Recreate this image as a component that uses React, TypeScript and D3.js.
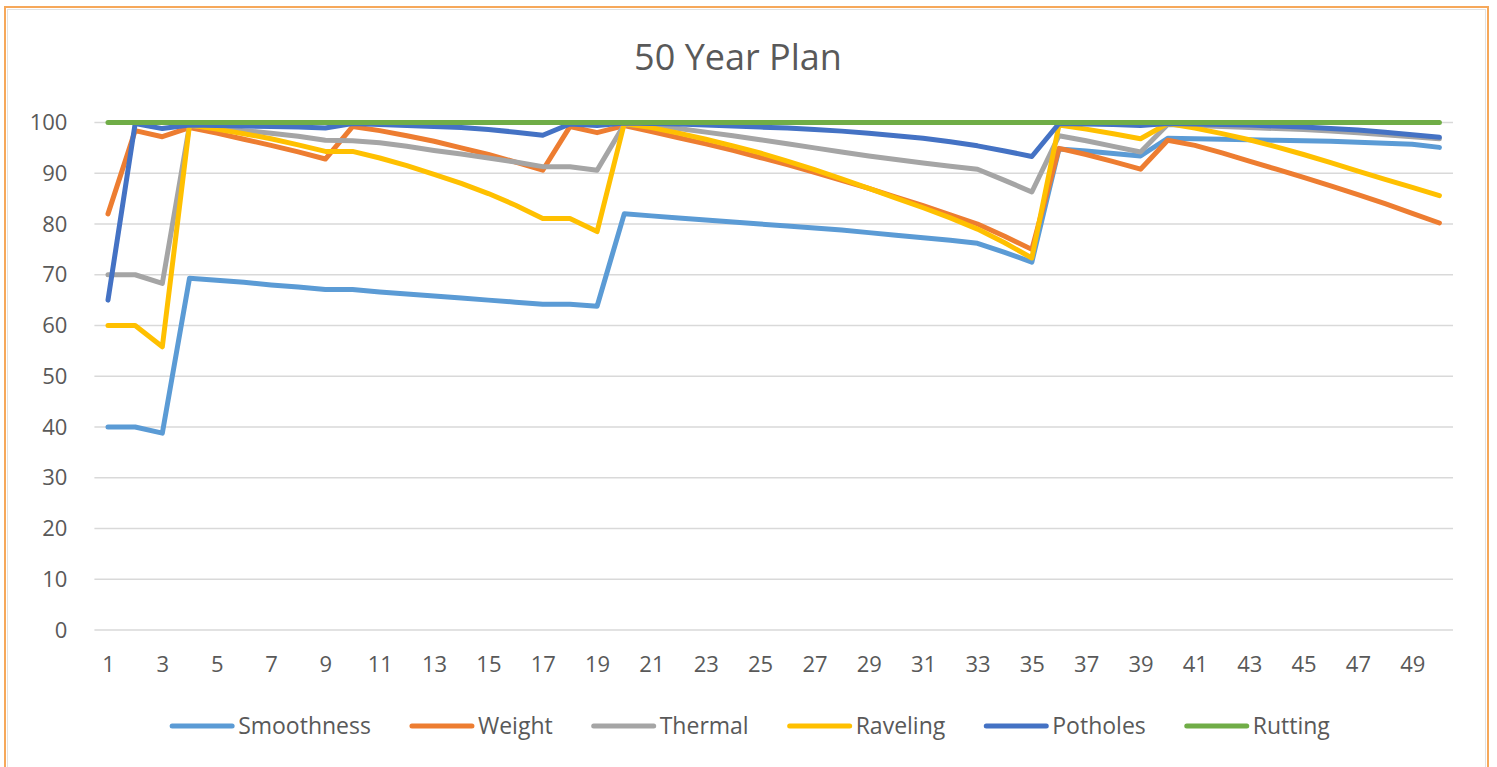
import { useEffect, useRef } from 'react';
import * as d3 from 'd3';

const years = [
  1, 2, 3, 4, 5, 6, 7, 8, 9, 10, 11, 12, 13, 14, 15, 16, 17, 18, 19, 20, 21, 22, 23, 24, 25,
  26, 27, 28, 29, 30, 31, 32, 33, 34, 35, 36, 37, 38, 39, 40, 41, 42, 43, 44, 45, 46, 47, 48, 49, 50,
];

const smoothness = [
  40, 40, 38.8, 69.3, 68.9, 68.5, 68.0, 67.6, 67.1, 67.1,
  66.6, 66.2, 65.8, 65.4, 65.0, 64.6, 64.2, 64.2, 63.8, 82.0,
  81.6, 81.2, 80.8, 80.4, 80.0, 79.6, 79.2, 78.8, 78.3, 77.8,
  77.3, 76.8, 76.2, 74.4, 72.5, 94.8, 94.4, 93.9, 93.4, 96.9,
  96.8, 96.7, 96.6, 96.5, 96.4, 96.3, 96.1, 95.9, 95.7, 95.1,
];
const weight = [
  82.0, 98.4, 97.2, 99.0, 97.9, 96.7, 95.5, 94.2, 92.8, 99.2,
  98.4, 97.4, 96.3, 95.0, 93.7, 92.2, 90.6, 99.2, 98.0, 99.4,
  98.2, 97.0, 95.8, 94.5, 93.1, 91.7, 90.2, 88.6, 87.0, 85.3,
  83.6, 81.8, 80.0, 77.6, 75.0, 94.9, 93.7, 92.3, 90.8, 96.5,
  95.5, 94.0, 92.4, 90.8, 89.2, 87.5, 85.8, 84.0, 82.1, 80.2,
];
const thermal = [
  70, 70, 68.3, 99.4, 98.9, 98.4, 97.9, 97.3, 96.5, 96.4,
  96.0, 95.3, 94.5, 93.8, 93.0, 92.2, 91.3, 91.3, 90.6, 99.6,
  99.4, 98.8, 98.1, 97.4, 96.6, 95.8, 95.0, 94.2, 93.4, 92.7,
  92.0, 91.4, 90.8, 88.6, 86.3, 97.4, 96.4, 95.3, 94.2, 99.6,
  99.4, 99.2, 99.0, 98.8, 98.6, 98.3, 98.0, 97.6, 97.2, 96.8,
];
const raveling = [
  60, 60, 55.8, 99.5, 98.7, 97.8, 96.8, 95.6, 94.3, 94.3,
  93.0, 91.5, 89.8, 88.0, 86.0, 83.7, 81.1, 81.1, 78.5, 99.8,
  99.0, 97.9, 96.7, 95.4, 94.0, 92.4, 90.7, 88.9, 87.0, 85.1,
  83.2, 81.2, 79.0, 76.3, 73.3, 99.5, 98.7, 97.8, 96.8, 99.8,
  98.9, 97.8, 96.6, 95.2, 93.7, 92.1, 90.4, 88.8, 87.2, 85.6,
];
const potholes = [
  65, 99.8, 98.8, 99.5, 99.4, 99.3, 99.2, 99.1, 98.9, 99.8,
  99.6, 99.4, 99.2, 99.0, 98.6, 98.1, 97.5, 99.7, 99.4, 99.9,
  99.8, 99.7, 99.5, 99.3, 99.1, 98.9, 98.6, 98.3, 97.9, 97.4,
  96.9, 96.2, 95.4, 94.4, 93.3, 99.8, 99.7, 99.6, 99.4, 99.8,
  99.7, 99.6, 99.5, 99.3, 99.1, 98.8, 98.5, 98.1, 97.6, 97.1,
];
const rutting = [
  100, 100, 100, 100, 100, 100, 100, 100, 100, 100,
  100, 100, 100, 100, 100, 100, 100, 100, 100, 100,
  100, 100, 100, 100, 100, 100, 100, 100, 100, 100,
  100, 100, 100, 100, 100, 100, 100, 100, 100, 100,
  100, 100, 100, 100, 100, 100, 100, 100, 100, 100,
];

const seriesNames = ['Smoothness', 'Weight', 'Thermal', 'Raveling', 'Potholes', 'Rutting'];
const seriesValues = [smoothness, weight, thermal, raveling, potholes, rutting];
const colors = ['#5b9bd5', '#ed7d31', '#a5a5a5', '#ffc000', '#4472c4', '#70ad47'];
const yTicks = [0, 10, 20, 30, 40, 50, 60, 70, 80, 90, 100];
const xTickYears = years.filter(d => d % 2 === 1);

const W = 1497;
const H = 767;
const FONT = '"Open Sans", sans-serif';

function Chart() {
  const ref = useRef<SVGSVGElement>(null);

  useEffect(() => {
    const svg = d3.select(ref.current).attr('width', W).attr('height', H);
    svg.selectAll('*').remove();

    const left = 94.4;
    const right = 1453;
    const top = 122.5;
    const bottom = 630;

    const x = d3.scaleLinear().domain([0.5, 50.5]).range([left, right]);
    const y = d3.scaleLinear().domain([0, 100]).range([bottom, top]);

    svg.append('rect').attr('width', W).attr('height', H).attr('fill', '#fff');

    // outer frame
    svg
      .append('rect')
      .attr('x', 5)
      .attr('y', 7)
      .attr('width', 1483)
      .attr('height', H + 20)
      .attr('fill', 'none')
      .attr('stroke', '#f6a85a')
      .attr('stroke-width', 2);
    svg
      .append('rect')
      .attr('x', 7.5)
      .attr('y', 9.5)
      .attr('width', 1478)
      .attr('height', H + 20)
      .attr('fill', 'none')
      .attr('stroke', '#e2e2e2')
      .attr('stroke-width', 1);

    svg
      .append('text')
      .attr('x', 738)
      .attr('y', 70)
      .attr('text-anchor', 'middle')
      .attr('font-family', FONT)
      .attr('font-size', 36)
      .attr('fill', '#595959')
      .text('50 Year Plan');

    // gridlines
    svg
      .append('g')
      .selectAll('line')
      .data(yTicks)
      .join('line')
      .attr('x1', left)
      .attr('x2', right)
      .attr('y1', d => y(d))
      .attr('y2', d => y(d))
      .attr('stroke', '#d9d9d9')
      .attr('stroke-width', 1.5);

    const yAxis = svg
      .append('g')
      .attr('transform', `translate(${left - 27},0)`)
      .call(d3.axisLeft(y).tickValues(yTicks).tickSize(0).tickPadding(0));
    yAxis.select('.domain').remove();
    yAxis
      .selectAll('text')
      .attr('font-family', FONT)
      .attr('font-size', 22)
      .attr('fill', '#595959');

    const xAxis = svg
      .append('g')
      .attr('transform', `translate(0,${bottom})`)
      .call(d3.axisBottom(x).tickValues(xTickYears).tickFormat(d3.format('d')).tickSize(0).tickPadding(26));
    xAxis.select('.domain').remove();
    xAxis
      .selectAll('text')
      .attr('font-family', FONT)
      .attr('font-size', 22)
      .attr('fill', '#595959');

    const line = d3
      .line<number>()
      .x((_, i) => x(years[i]))
      .y(d => y(d));

    svg
      .append('g')
      .selectAll('path')
      .data(seriesValues)
      .join('path')
      .attr('d', d => line(d))
      .attr('fill', 'none')
      .attr('stroke', (_, i) => colors[i])
      .attr('stroke-width', 5)
      .attr('stroke-linejoin', 'round')
      .attr('stroke-linecap', 'round');

    // legend
    const legend = svg.append('g');
    const items = legend
      .selectAll('g')
      .data(seriesNames)
      .join('g');
    items
      .append('line')
      .attr('x1', 0)
      .attr('x2', 60)
      .attr('y1', 0)
      .attr('y2', 0)
      .attr('stroke', (_, i) => colors[i])
      .attr('stroke-width', 5)
      .attr('stroke-linecap', 'round');
    const texts = items
      .append('text')
      .attr('x', 66)
      .attr('dy', '0.35em')
      .attr('font-family', FONT)
      .attr('font-size', 23)
      .attr('fill', '#595959')
      .text(d => d);

    const widths: number[] = [];
    texts.each(function () {
      widths.push((this as SVGTextElement).getComputedTextLength());
    });
    const gap = 41;
    const itemW = widths.map(w => 66 + w);
    const total = d3.sum(itemW) + gap * (itemW.length - 1);
    let cx = 751 - total / 2;
    const offsets = itemW.map(w => {
      const o = cx;
      cx += w + gap;
      return o;
    });
    items.attr('transform', (_, i) => `translate(${offsets[i]},726)`);

    return () => {
      svg.selectAll('*').remove();
    };
  }, []);

  return <svg ref={ref} role="img" aria-label="50 Year Plan" style={{ position: 'absolute', left: 0, top: 0 }} />;
}

export default function App() {
  return <Chart />;
}
